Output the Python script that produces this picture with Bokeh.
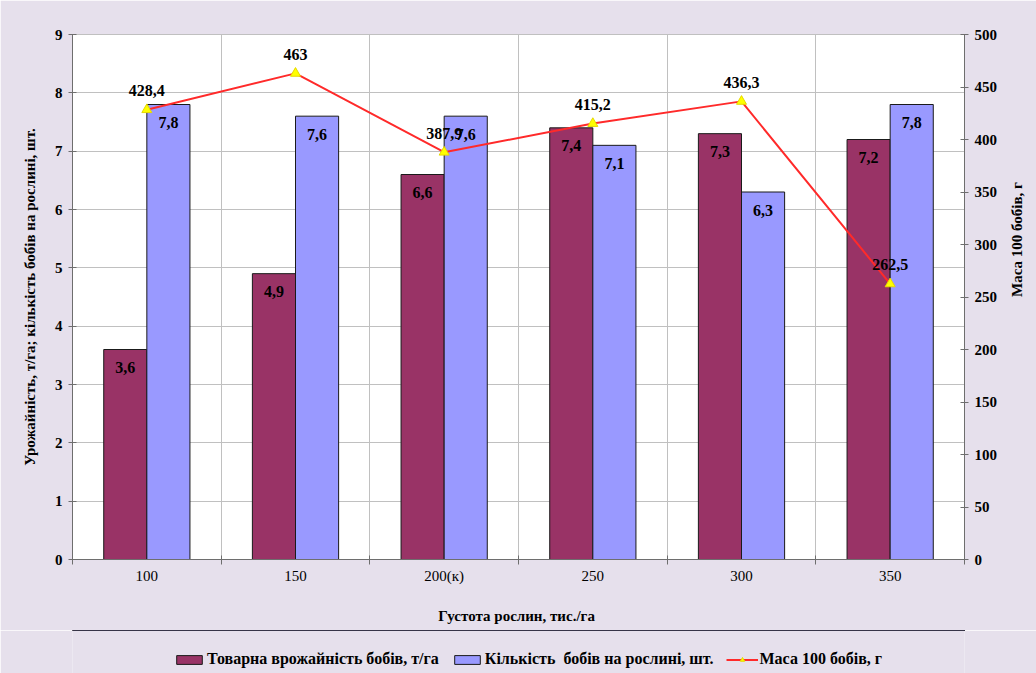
import math
from bokeh.plotting import figure
from bokeh.layouts import column
from bokeh.models import (FactorRange, Range1d, LinearAxis, CategoricalAxis, FixedTicker, Grid,
                          ColumnDataSource, LabelSet, Legend, LegendItem)
from bokeh.transform import dodge
from bokeh.core.properties import value
from bokeh.embed import file_html
from bokeh.resources import INLINE

# ---- data ----
categories = ["100", "150", "200(к)", "250", "300", "350"]
yield_t_ha = [3.6, 4.9, 6.6, 7.4, 7.3, 7.2]
beans_per_plant = [7.8, 7.6, 7.6, 7.1, 6.3, 7.8]
mass_100_beans = [428.4, 463, 387.9, 415.2, 436.3, 262.5]
left_ticks = [0, 1, 2, 3, 4, 5, 6, 7, 8, 9]
right_ticks = [0, 50, 100, 150, 200, 250, 300, 350, 400, 450, 500]
boundary_ticks = [0, 1, 2, 3, 4, 5, 6]

series_names = ["Товарна врожайність бобів, т/га",
                "Кількість  бобів на рослині, шт.",
                "Маса 100 бобів, г"]


def fmt(v):
    return ("%g" % v).replace(".", ",")


src = ColumnDataSource(dict(
    cat=categories, y1=yield_t_ha, y2=beans_per_plant, m=mass_100_beans,
    l1=[fmt(v) for v in yield_t_ha], l2=[fmt(v) for v in beans_per_plant],
    lm=[fmt(v) for v in mass_100_beans]))

FONT = "Liberation Serif"
AX = "#6E6E6E"
GRID = "#C0C0C0"
BG = "#E6E0EC"
C_YIELD = "#993366"
C_COUNT = "#9999FF"
C_LINE = "#FF2A2A"
C_MARK = "#FFFF00"
C_EDGE = "#1A1A1A"

p = figure(width=1036, height=630, x_range=FactorRange(*categories, range_padding=0),
           y_range=Range1d(0, 9), output_backend="svg", toolbar_location=None,
           x_axis_location=None, y_axis_location=None,
           background_fill_color="white", border_fill_color=BG,
           min_border_left=72, min_border_right=72, min_border_top=34, min_border_bottom=71)
p.extra_y_ranges = {"mass": Range1d(0, 500)}
p.xgrid.visible = False
p.ygrid.visible = False
p.outline_line_color = GRID

# grids
p.add_layout(Grid(dimension=0, ticker=FixedTicker(ticks=boundary_ticks),
                  grid_line_color=GRID, grid_line_width=1))
p.add_layout(Grid(dimension=1, ticker=FixedTicker(ticks=left_ticks),
                  grid_line_color=GRID, grid_line_width=1))

# axes
tick_axis = LinearAxis(ticker=FixedTicker(ticks=boundary_ticks), major_tick_in=4, major_tick_out=5,
                       major_label_text_font_size="1px", major_label_text_alpha=0,
                       major_label_standoff=0, axis_line_color=AX, major_tick_line_color=AX,
                       minor_tick_line_color=None)
p.add_layout(tick_axis, "below")
cat_axis = CategoricalAxis(major_tick_in=0, major_tick_out=0, major_tick_line_color=None,
                           axis_line_color=None, major_label_standoff=3,
                           major_label_text_font=FONT, major_label_text_font_size="15px",
                           major_label_text_color="black",
                           axis_label="Густота  рослин, тис./га", axis_label_standoff=21,
                           axis_label_text_font=FONT, axis_label_text_font_style="bold",
                           axis_label_text_font_size="15px", axis_label_text_color="black")
p.add_layout(cat_axis, "below")

left_axis = LinearAxis(ticker=FixedTicker(ticks=left_ticks), major_tick_in=4, major_tick_out=4,
                       axis_line_color=AX, major_tick_line_color=AX, minor_tick_line_color=None,
                       major_label_standoff=6, major_label_text_font=FONT,
                       major_label_text_font_style="bold", major_label_text_font_size="15px",
                       major_label_text_color="black",
                       axis_label="Урожайність, т/га; кількість бобів на рослині, шт.",
                       axis_label_standoff=14, axis_label_text_font=FONT,
                       axis_label_text_font_style="bold", axis_label_text_font_size="15px",
                       axis_label_text_color="black")
p.add_layout(left_axis, "left")

right_axis = LinearAxis(y_range_name="mass", ticker=FixedTicker(ticks=right_ticks),
                        major_tick_in=4, major_tick_out=4,
                        axis_line_color=AX, major_tick_line_color=AX, minor_tick_line_color=None,
                        major_label_standoff=6, major_label_text_font=FONT,
                        major_label_text_font_style="bold", major_label_text_font_size="15px",
                        major_label_text_color="black",
                        axis_label="Маса 100 бобів, г", axis_label_standoff=17,
                        axis_label_orientation=math.pi / 2,
                        axis_label_text_font=FONT, axis_label_text_font_style="bold",
                        axis_label_text_font_size="15px", axis_label_text_color="black")
p.add_layout(right_axis, "right")

# bars
W = 0.29
p.vbar(x=dodge("cat", -W / 2, range=p.x_range), top="y1", width=W, source=src,
       fill_color=C_YIELD, line_color=C_EDGE, line_width=1)
p.vbar(x=dodge("cat", W / 2, range=p.x_range), top="y2", width=W, source=src,
       fill_color=C_COUNT, line_color=C_EDGE, line_width=1)

# line
p.line(x="cat", y="m", source=src, y_range_name="mass", line_color=C_LINE, line_width=2)
p.scatter(x="cat", y="m", source=src, y_range_name="mass", marker="triangle", size=10,
          fill_color=C_MARK, line_color="#E6D800", line_width=1)

# labels
lab_kw = dict(text_font=value(FONT), text_font_style="bold", text_font_size="16px",
              text_color="black", text_align="center", text_baseline="middle")
p.add_layout(LabelSet(x=dodge("cat", -W / 2, range=p.x_range), y="y1", text="l1", source=src,
                      y_offset=-18, **lab_kw))
p.add_layout(LabelSet(x=dodge("cat", W / 2, range=p.x_range), y="y2", text="l2", source=src,
                      y_offset=-18, **lab_kw))
p.add_layout(LabelSet(x="cat", y="m", text="lm", source=src, y_range_name="mass",
                      y_offset=19, **lab_kw))

# ---- legend strip (separate figure below the chart; proxy glyphs are not drawn in its view) ----
pl = figure(width=1036, height=43, x_range=Range1d(-1000, -999),
            y_range=Range1d(-1000, -999),
            output_backend="svg", toolbar_location=None,
            x_axis_location=None, y_axis_location=None,
            background_fill_color=BG, border_fill_color=BG, min_border=0)
pl.outline_line_color = None
pl.xgrid.visible = False
pl.ygrid.visible = False
g1 = pl.vbar(x="cat", top="y1", width=0.3, source=src, fill_color=C_YIELD, line_color=C_EDGE)
g2 = pl.vbar(x="cat", top="y2", width=0.3, source=src, fill_color=C_COUNT, line_color=C_EDGE)
g3 = pl.line(x="cat", y="m", source=src, line_color=C_LINE, line_width=2)
g4 = pl.scatter(x="cat", y="m", source=src, marker="triangle", size=10,
                fill_color=C_MARK, line_color="#E6D800")
legend = Legend(items=[LegendItem(label=series_names[0], renderers=[g1]),
                       LegendItem(label=series_names[1], renderers=[g2]),
                       LegendItem(label=series_names[2], renderers=[g3, g4])],
                location=(101, 5), orientation="horizontal",
                background_fill_alpha=0, border_line_color=None,
                label_text_font=FONT, label_text_font_style="bold", label_text_font_size="16px",
                label_text_color="black", label_height=16,
                glyph_width=32, glyph_height=11, label_standoff=2, spacing=12,
                padding=0, margin=0)
pl.add_layout(legend, "center")

layout = column(p, pl, spacing=0)
open("out.html", "w").write(file_html(layout, INLINE))
